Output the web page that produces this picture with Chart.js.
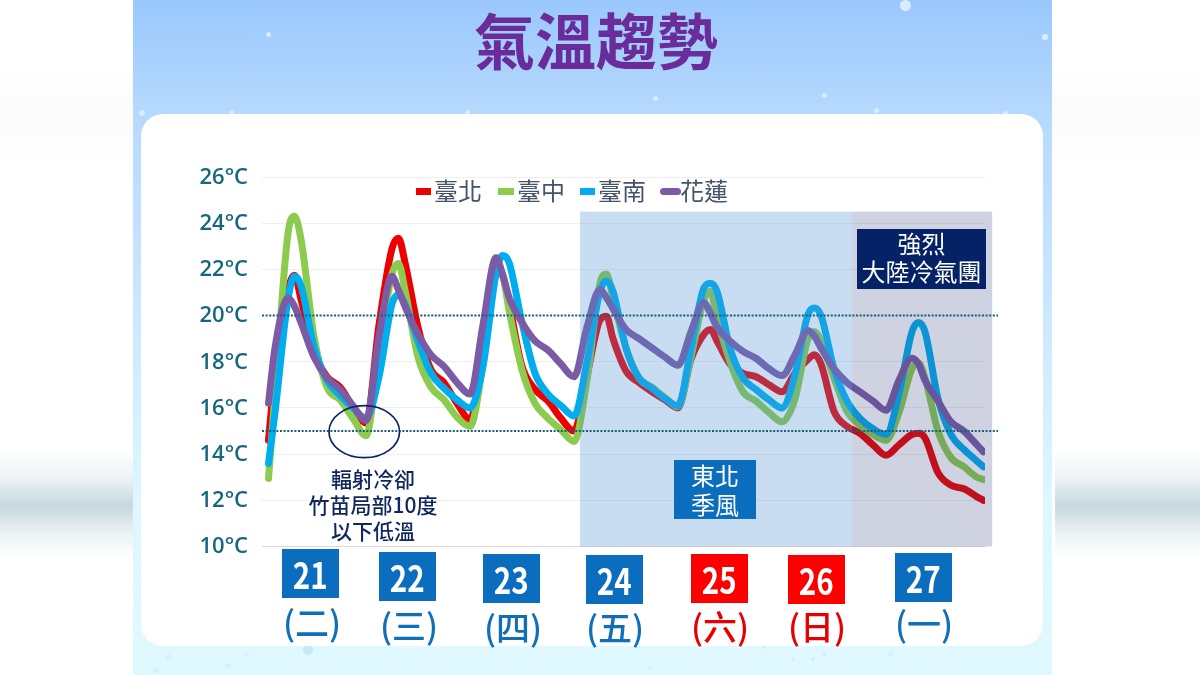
<!DOCTYPE html>
<html lang="zh-Hant">
<head>
<meta charset="utf-8">
<title>氣溫趨勢</title>
<script src="https://cdn.jsdelivr.net/npm/chart.js@4"></script>
<style>
html,body{margin:0;padding:0;width:1200px;height:675px;overflow:hidden;background:#fff;font-family:"Noto Sans CJK TC","Noto Sans",sans-serif}
#stage{position:relative;width:1200px;height:675px;overflow:hidden;background:linear-gradient(180deg,#fff 0,#fff 70px,#fcfcfc 100px,#fcfcfc 130px,#fff 160px,#fff 100%)}
.abs{position:absolute}
#sideL,#sideR{top:450px;height:108px;background:linear-gradient(180deg,rgba(196,214,223,0) 0%,rgba(196,214,223,.3) 25%,#c6d8e1 52%,rgba(196,214,223,.3) 78%,rgba(196,214,223,0) 100%)}
#sideL{left:0;width:133px}
#sideR{left:1055px;width:145px}
#panel{left:133px;top:0;width:919px;height:675px;background:linear-gradient(180deg,#9ac8fc 0%,#b6d9fe 17%,#cdeaff 50%,#def7ff 75%,#e0f8ff 100%)}
#card{left:141px;top:114px;width:902px;height:532px;border-radius:22px;background:#fff}
.dot{position:absolute;border-radius:50%}
canvas{position:absolute;left:0;top:0}
#title{left:471px;top:-4px;width:250px;text-align:center;font-size:61px;line-height:86px;font-weight:700;color:#6a2c9a;white-space:nowrap}
.leg{position:absolute;top:174px;font-size:24px;line-height:32px;color:#44546a;white-space:nowrap}
.sw{position:absolute;top:188px;height:7px}
.note{color:#10265e;font-size:21px;line-height:26px;text-align:center;font-weight:500;left:273px;width:200px;top:465px}
.boxed{color:#fff;text-align:center;font-size:24px}
#ne{left:674px;top:460px;width:82px;height:59px;background:#0a6dbd;line-height:29px}
#cold{left:857px;top:229px;width:129px;height:60px;background:#062266;line-height:28px}
.day{position:absolute;width:57px;height:49px;color:#fff;font-weight:700;font-size:36px;line-height:49px;text-align:center}
.day span{display:inline-block;transform:scaleX(.82)}
.wk{position:absolute;width:80px;text-align:center;font-size:34px;line-height:40px;font-weight:500;white-space:nowrap}
</style>
</head>
<body>
<div id="stage">
  <div id="sideL" class="abs"></div>
  <div id="sideR" class="abs"></div>
  <div id="panel" class="abs"></div>
  <div id="dots"></div>
  <div id="card" class="abs"></div>
  <canvas id="chart" width="1200" height="675"></canvas>
  <div id="title" class="abs">氣溫趨勢</div>
  <div id="legend"></div>
  <div class="abs note">輻射冷卻<br>竹苗局部10度<br>以下低溫</div>
  <div id="ne" class="abs boxed">東北<br>季風</div>
  <div id="cold" class="abs boxed">強烈<br>大陸冷氣團</div>
  <div id="days"></div>
</div>
<script>
// Hours since the start of the 21st-day axis
const hours = [
  1.5,3,6,7.5,9,12,15,18,21,
  24,27,30,31.5,33,36,39,42,45,
  48,51,54,55.5,57,60,63,66,69,
  72,75,78,79.5,81,84,87,90,93,
  96,99,102,103.5,105,108,111,114,117,
  120,123,126,127.5,129,132,135,138,141,
  144,147,150,151.5,153,156,159,162,165,166.5];
const taipei = [
  14.6,17.5,21.1,21.75,20.7,18.45,17.35,16.9,16.05,
  15.35,19.6,22.9,23.35,22.3,19.5,17.65,17.1,16.2,
  15.5,18.4,22.1,21.75,20.55,17.8,16.8,16.3,15.55,
  15,17.4,19.8,19.97,19,17.6,17.1,16.7,16.35,
  16,18.1,19.2,19.4,18.9,17.9,17.5,17.35,17,
  16.7,17.5,18.1,18.3,17.9,15.85,15.2,14.9,14.4,
  13.95,14.4,14.85,14.9,14.7,13.2,12.65,12.5,12.15,12];
const taichung = [
  12.95,16.6,23.55,24.3,23.3,19.1,16.9,16.35,15.55,
  14.8,18.4,21.8,22.25,21.1,18.2,16.9,16.35,15.6,
  15.2,17.9,22.1,21.8,20.25,17.65,16.2,15.55,15.05,
  14.55,17.2,21.4,21.8,20.75,18.6,17.3,16.9,16.45,
  16.05,18.2,20.7,21.05,19.9,18,16.7,16.3,15.8,
  15.4,16.4,19,19.3,18.9,17.3,15.85,15.25,14.85,
  14.6,15.8,17.7,17.95,17.3,15,13.85,13.45,13,12.9];
const tainan = [
  13.6,15.8,20.7,21.7,21.3,18.65,17.2,16.55,16,
  15.55,17.35,20.5,20.9,20.5,18.9,17.5,16.85,16.35,
  16,17.8,21.8,22.6,22.3,19.7,17.5,16.6,16.1,
  15.65,18,21.05,21.5,21.05,18.6,17.3,16.85,16.4,
  16.1,18.6,21.2,21.4,21.05,18.6,17.3,16.8,16.35,
  16,17.45,20.05,20.33,20,17.7,16.3,15.55,15.1,
  14.85,16.6,19.3,19.7,19.3,16.4,14.85,14.2,13.7,13.45];
const hualien = [
  16.2,18.6,20.75,20.4,19.7,18.2,17.3,16.8,16.1,
  15.45,19.1,21.7,21.1,20.4,19.2,18.3,17.8,17.1,
  16.6,19.6,22.5,21.8,20.8,19.7,18.9,18.5,17.9,
  17.35,19.5,21.13,20.77,20.3,19.4,19,18.6,18.2,
  17.85,19.3,20.55,20.1,19.5,18.9,18.45,18.15,17.7,
  17.4,18.3,19.35,19.1,18.6,17.7,17.1,16.7,16.3,
  15.9,17.2,18.15,17.9,17.2,16.3,15.4,15,14.4,14.1];
const seriesNames = ['臺北','臺中','臺南','花蓮'];
const seriesColors = ['#ee0000','#8ccb4e','#00aeef','#7b5ba6'];
const dayLabels = ['21','22','23','24','25','26','27'];
const weekLabels = ['(二)','(三)','(四)','(五)','(六)','(日)','(一)'];
const yTicks = [10,12,14,16,18,20,22,24,26];
const refLines = [20,15];
const regionHours = [73.4,136.2,168.5];

const seriesValues = [taipei,taichung,tainan,hualien];
const datasets = seriesNames.map((name,k)=>({
  label:name,
  data:hours.map((h,i)=>({x:h,y:seriesValues[k][i]})),
  borderColor:seriesColors[k],
  backgroundColor:seriesColors[k],
  borderWidth:7,
  pointRadius:0,
  cubicInterpolationMode:'monotone',
  borderCapStyle:'round',
  borderJoinStyle:'round',
  order:4-k
}));

const overlay = {
  id:'overlay',
  afterDatasetsDraw(chart){
    const {ctx,scales:{x,y}} = chart;
    const top = y.getPixelForValue(24.5), bottom = y.getPixelForValue(10);
    const x0 = x.getPixelForValue(regionHours[0]), x1 = x.getPixelForValue(regionHours[1]), x2 = x.getPixelForValue(regionHours[2]);
    ctx.save();
    ctx.fillStyle='rgba(74,144,208,.3)';
    ctx.fillRect(x0,top,x1-x0,bottom-top);
    ctx.fillStyle='rgba(47,63,127,.23)';
    ctx.fillRect(x1,top,x2-x1,bottom-top);
    ctx.strokeStyle='#1a5f7a';
    ctx.lineWidth=2;
    ctx.setLineDash([2,1.6]);
    refLines.forEach(v=>{
      const p=y.getPixelForValue(v);
      ctx.beginPath();ctx.moveTo(chart.chartArea.left,p);ctx.lineTo(998,p);ctx.stroke();
    });
    ctx.setLineDash([]);
    ctx.strokeStyle='#0a2463';
    ctx.lineWidth=1.7;
    ctx.beginPath();
    ctx.ellipse(x.getPixelForValue(23.6),y.getPixelForValue(14.97),35.3,26,0,0,Math.PI*2);
    ctx.stroke();
    ctx.restore();
  }
};

new Chart(document.getElementById('chart'),{
  type:'line',
  data:{datasets},
  options:{
    responsive:false,
    animation:false,
    layout:{padding:{left:0,right:215,top:177,bottom:128.5}},
    plugins:{legend:{display:false},tooltip:{enabled:false}},
    scales:{
      x:{type:'linear',display:false,min:0,max:166.85},
      y:{
        min:10,max:26,
        afterFit(s){s.width=262;},
        afterBuildTicks(s){s.ticks=yTicks.map(v=>({value:v}));},
        border:{display:false},
        grid:{color:c=>c.tick.value===10?'#d9d9d9':'#efefef',lineWidth:1,drawTicks:false},
        ticks:{
          padding:14,
          labelOffset:0.5,
          color:'#16687f',
          font:{family:'"Open Sans","Noto Sans",sans-serif',size:22,weight:'600'},
          callback:v=>v+'°C'
        }
      }
    }
  },
  plugins:[overlay]
});

// Page decoration and text blocks
const snow = [[905,5,5.5,'#d8ecff'],[1045,37,2.7,'#d8ecff'],[268.5,34,2.5,'#d8ecff'],[655,98,2.5,'#d8ecff'],[824,95,2.5,'#d8ecff'],[876,110,2.5,'#d8ecff'],[141.5,113,3,'#d8ecff'],[231,112,2.5,'#d8ecff'],[467.5,112,2.5,'#d8ecff'],[1005,113,2.5,'#d8ecff'],
  [308,650,5,'#c8e8f6'],[168,656,2.5,'#d4f0f9'],[246,654,2.5,'#d4f0f9'],[228,665,2.5,'#d4f0f9'],[155,670,2.5,'#d4f0f9'],[764,647,2,'#d4f0f9'],[793,659,2,'#d4f0f9'],[813,659,2,'#d4f0f9'],[824,655,2,'#d4f0f9'],[890,653,2.5,'#d4f0f9'],[650,668,2,'#d4f0f9']];
document.getElementById('dots').innerHTML = snow.map(([x,y,r,c])=>
  `<div class="dot" style="left:${x-r}px;top:${y-r}px;width:${2*r}px;height:${2*r}px;background:${c}"></div>`).join('');

const legendPos = [[416,15,434],[498,16,517],[580,15,598],[660,21,680]];
document.getElementById('legend').innerHTML = seriesNames.map((n,i)=>{
  const [sx,sw,tx]=legendPos[i];
  return `<div class="sw" style="left:${sx}px;width:${sw}px;background:${seriesColors[i]};${i===3?'border-radius:4px;':''}"></div>`+
         `<div class="leg" style="left:${tx}px">${n}</div>`;
}).join('');

const dayBoxes = [[282,549],[378.5,552],[483,554],[585.5,555],[691,554],[788,555],[895,553]];
const weekPos = [[312,602],[409,605],[513,607],[615,607],[720,606],[817,606],[924,603]];
const redDays = ['25','26'];
document.getElementById('days').innerHTML = dayLabels.map((d,i)=>{
  const red = redDays.includes(d);
  const [bx,by]=dayBoxes[i], [wx,wy]=weekPos[i];
  return `<div class="day" style="left:${bx}px;top:${by}px;background:${red?'#fe0000':'#0a6dbd'}"><span>${d}</span></div>`+
         `<div class="wk" style="left:${wx-40}px;top:${wy}px;color:${red?'#e60000':'#0f6fb8'}">${weekLabels[i]}</div>`;
}).join('');
</script>
</body>
</html>
